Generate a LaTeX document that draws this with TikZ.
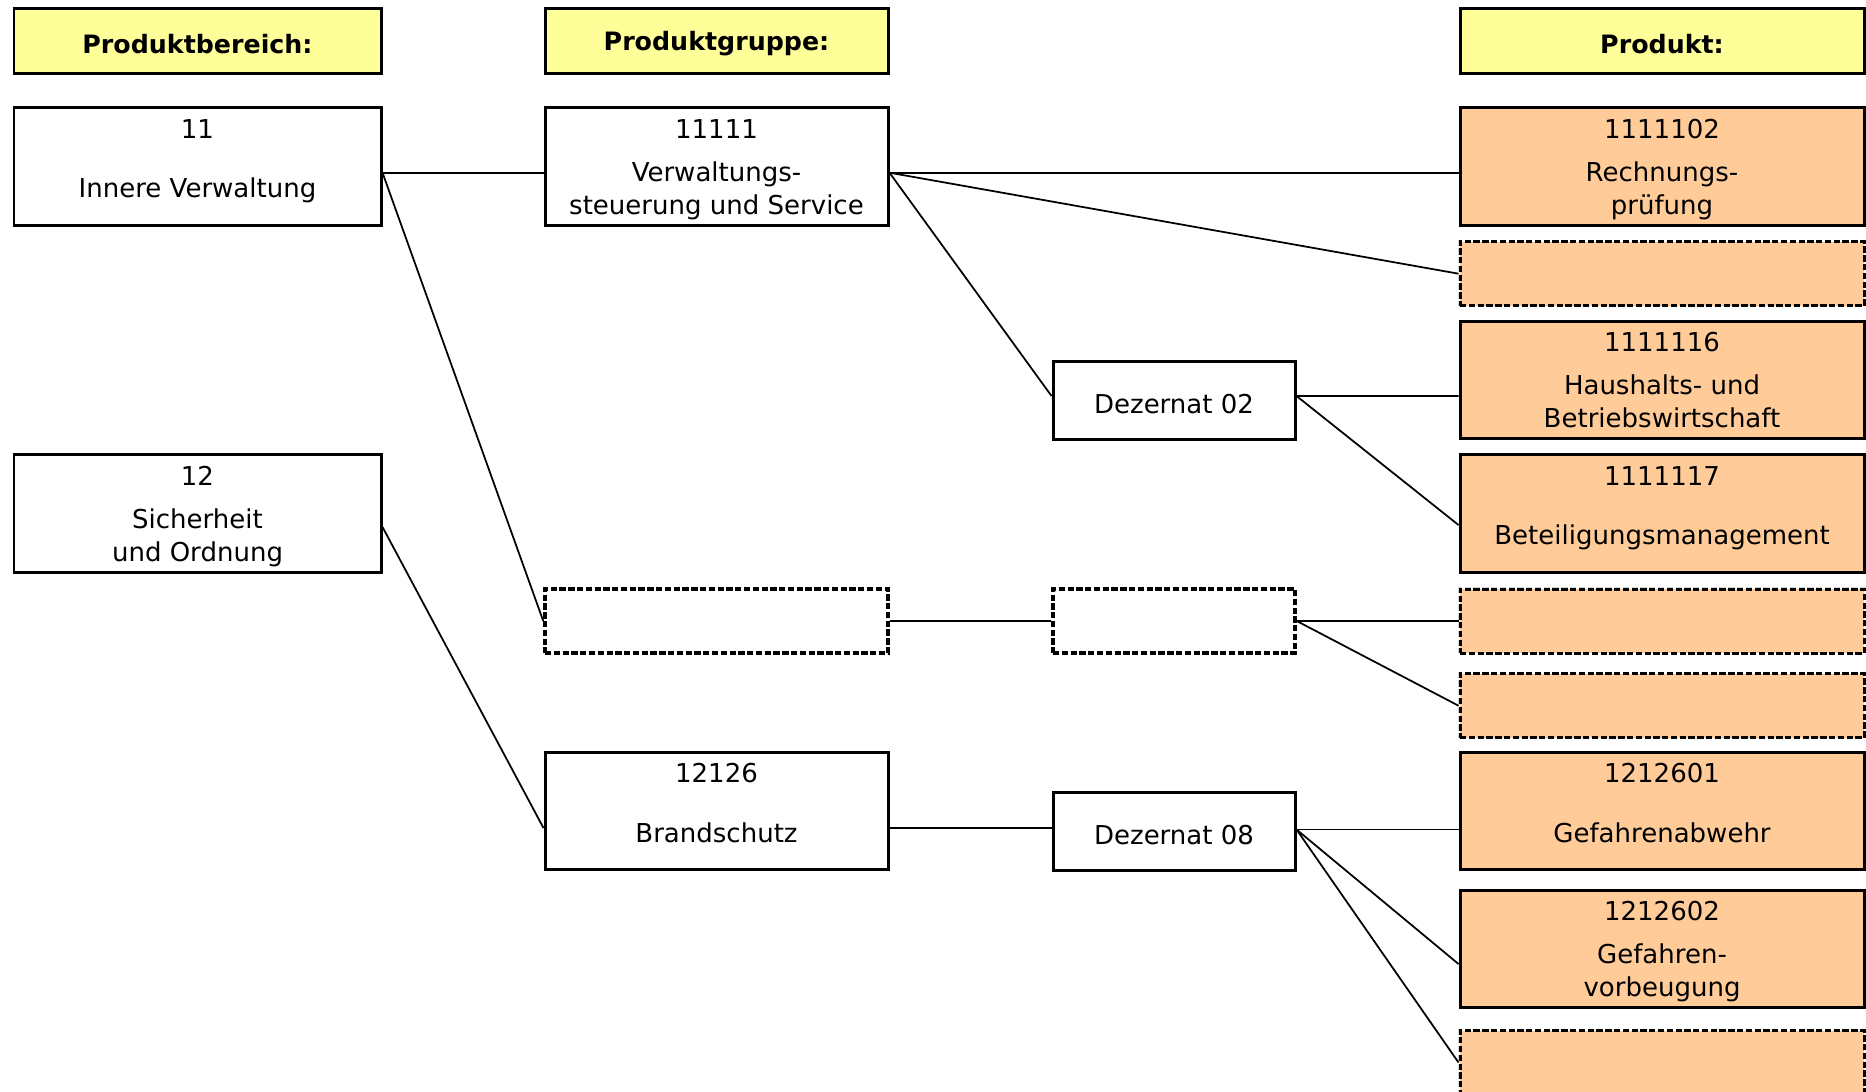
\documentclass[tikz,border=0pt]{standalone}
\usepackage{fontspec}
\setmainfont{DejaVu Sans}
\usetikzlibrary{positioning}
\definecolor{kopfgelb}{HTML}{FFFF99}
\definecolor{produktorange}{HTML}{FFCC99}
\newcommand{\zweizeilig}[3]{\rule{0pt}{8.4pt}#1\\[2.7pt]#2\\#3\strut}
\newcommand{\einzeilig}[2]{\rule{0pt}{8.4pt}#1\\[7.45pt]#2\\[-4.75pt]\strut}

\begin{document}
\begin{tikzpicture}[
  kopf/.style={draw, line width=0.85pt, fill=kopfgelb, font=\fontsize{7.2}{9.5}\selectfont\bfseries, minimum height=0.655cm, inner sep=0pt},
  box/.style={draw, line width=0.85pt, fill=white, align=center, font=\fontsize{7.4}{9.5}\selectfont, inner sep=0pt},
  produkt/.style={box, fill=produktorange},
  leer/.style={box, line width=1pt, dash pattern=on 1.8pt off 0.7pt, preaction={draw=gray!35, line width=1pt}},
  spalteA/.style={minimum width=3.67cm},
  spalteB/.style={minimum width=3.43cm},
  spalteC/.style={minimum width=2.42cm},
  spalteD/.style={minimum width=4.04cm},
  hoch/.style={minimum height=1.175cm},
  mittel/.style={minimum height=0.78cm},
  flach/.style={minimum height=0.64cm},
  linie/.style={line width=0.5pt}
]
\useasboundingbox (0,0) rectangle (18.66,-10.91);
\clip (0,0) rectangle (18.66,-10.91);

% Kopfzeile
\node[kopf, spalteA] (hBereich) at (1.975,-0.41) {\rule{0pt}{7.2pt}Produktbereich:};
\node[kopf, spalteB] (hGruppe) at (7.165,-0.41) {\rule{0pt}{7.2pt}Produktgruppe:};
\node[kopf, spalteD] (hProdukt) at (16.62,-0.41) {\rule{0pt}{7.2pt}Produkt:};

% Produktbereiche
\node[box, spalteA, hoch] (pb11) at (1.975,-1.667) {\einzeilig{11}{Innere Verwaltung}};
\node[box, spalteA, hoch] (pb12) at (1.975,-5.135) {\zweizeilig{12}{Sicherheit}{und Ordnung}};

% Produktgruppen
\node[box, spalteB, hoch] (pg11111) at (7.165,-1.667) {\zweizeilig{11111}{Verwaltungs-}{steuerung und Service}};
\node[leer, spalteB, flach] (pgleer) at (7.165,-6.21) {};
\node[box, spalteB, hoch] (pg12126) at (7.165,-8.11) {\einzeilig{12126}{Brandschutz}};

% Dezernate
\node[box, spalteC, mittel] (dez02) at (11.74,-4.0) {\rule{0pt}{7.5pt}Dezernat 02};
\node[leer, spalteC, flach] (dezleer) at (11.74,-6.21) {};
\node[box, spalteC, mittel] (dez08) at (11.74,-8.31) {\rule{0pt}{7.5pt}Dezernat 08};

% Produkte
\node[produkt, spalteD, hoch] (p1111102) at (16.62,-1.667) {\zweizeilig{1111102}{Rechnungs-}{prüfung}};
\node[leer, produkt, spalteD, flach] (pleerA) at (16.62,-2.737) {};
\node[produkt, spalteD, hoch] (p1111116) at (16.62,-3.80) {\zweizeilig{1111116}{Haushalts- und}{Betriebswirtschaft}};
\node[produkt, spalteD, hoch] (p1111117) at (16.62,-5.135) {\einzeilig{1111117}{Beteiligungsmanagement}};
\node[leer, produkt, spalteD, flach] (pleerB) at (16.62,-6.21) {};
\node[leer, produkt, spalteD, flach] (pleerC) at (16.62,-7.057) {};
\node[produkt, spalteD, hoch] (p1212601) at (16.62,-8.11) {\einzeilig{1212601}{Gefahrenabwehr}};
\node[produkt, spalteD, hoch] (p1212602) at (16.62,-9.49) {\zweizeilig{1212602}{Gefahren-}{vorbeugung}};
\node[leer, produkt, spalteD, flach] (pleerD) at (16.62,-10.625) {};

% Verbindungen
\draw[linie] ([yshift=-0.06cm]pb11.east) -- ([yshift=-0.06cm]pg11111.west);
\draw[linie] ([yshift=-0.06cm]pb11.east) -- (pgleer.west);
\draw[linie] ([yshift=-0.135cm]pb12.east) -- ([yshift=-0.17cm]pg12126.west);
\draw[linie] ([yshift=-0.06cm]pg11111.east) -- ([yshift=-0.06cm]p1111102.west);
\draw[linie] ([yshift=-0.06cm]pg11111.east) -- (pleerA.west);
\draw[linie] ([yshift=-0.06cm]pg11111.east) -- ([yshift=0.04cm]dez02.west);
\draw[linie] ([yshift=0.04cm]dez02.east) -- ([yshift=-0.16cm]p1111116.west);
\draw[linie] ([yshift=0.04cm]dez02.east) -- ([yshift=-0.115cm]p1111117.west);
\draw[linie] (pgleer.east) -- (dezleer.west);
\draw[linie] (dezleer.east) -- (pleerB.west);
\draw[linie] (dezleer.east) -- (pleerC.west);
\draw[linie] ([yshift=-0.17cm]pg12126.east) -- ([yshift=0.03cm]dez08.west);
\draw[linie] ([yshift=0.015cm]dez08.east) -- ([yshift=-0.185cm]p1212601.west);
\draw[linie] ([yshift=0.015cm]dez08.east) -- ([yshift=-0.15cm]p1212602.west);
\draw[linie] ([yshift=0.015cm]dez08.east) -- (pleerD.west);
\end{tikzpicture}
\end{document}
